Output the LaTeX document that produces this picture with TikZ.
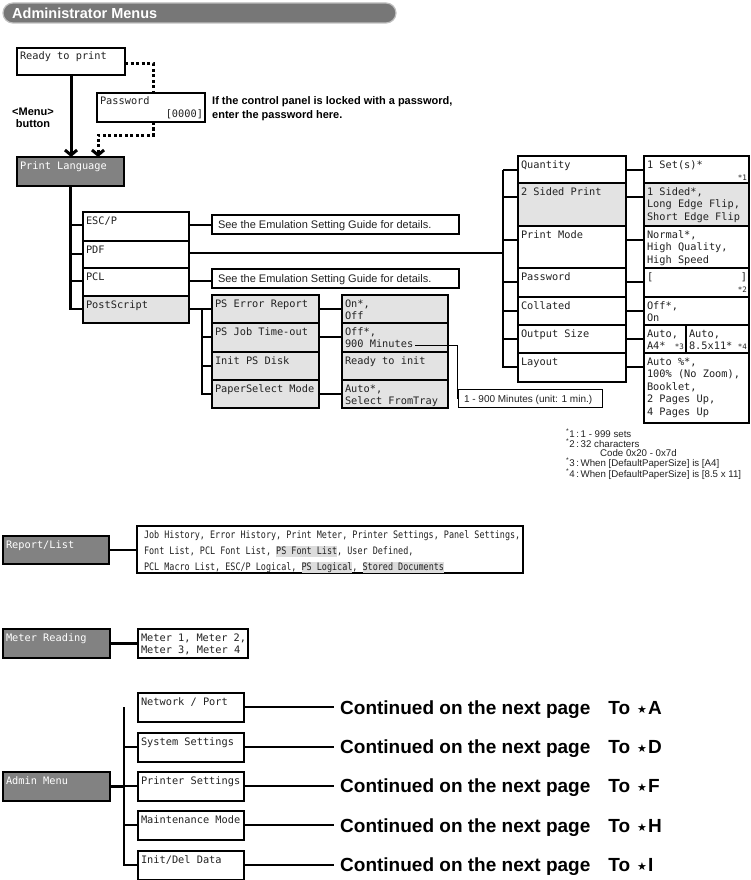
\documentclass[tikz,border=0pt]{standalone}
\usepackage{fontspec}
\setmainfont{Liberation Sans}
\newfontfamily\monof{DejaVu Sans Mono}
\newfontfamily\monoc[FakeStretch=0.82]{DejaVu Sans Mono}
\newfontfamily\dvs{DejaVu Sans}
\usetikzlibrary{arrows.meta,calc}
\definecolor{dkg}{HTML}{828282}
\definecolor{ltg}{HTML}{E3E3E3}
\definecolor{hdg}{HTML}{777777}
\definecolor{hlg}{HTML}{DCDCDC}
\definecolor{ink}{HTML}{222222}
\newcommand{\bt}[4][3pt]{\parbox[t][#3][t]{#2}{\parindent=0pt\leftskip=#1\rightskip=2pt\parfillskip=0pt plus 1fil\rule{0pt}{12pt}#4}}
\newcommand{\bs}[3]{\parbox[t][#2][t]{#1}{\parindent=0pt\leftskip=6pt\rule{0pt}{13pt}#3}}
\newcommand{\hlt}[1]{{\setlength{\fboxsep}{0pt}\colorbox{hlg}{\rule[-2.5pt]{0pt}{10.5pt}#1}}}
\newcommand{\sm}[1]{{\fontsize{7.5}{8}\selectfont #1}}
\newcommand{\rgt}{\null\hfill}
\tikzset{
  bx/.style={draw=black, line width=1.2pt, inner sep=0pt, outer sep=0pt, anchor=north west,
    text=ink, font=\monof\fontsize{10.3}{12.5}\selectfont},
  dk/.style={bx, fill=dkg, text=white},
  lt/.style={bx, fill=ltg},
  sbx/.style={bx, font=\fontsize{11}{13}\selectfont},
  wire/.style={line width=2.4pt},
  bigarrow/.style={line width=3pt, -{Straight Barb[length=5pt,width=12pt]}},
  dotline/.style={line width=3pt, dash pattern=on 3pt off 2.5pt},
  cont/.style={anchor=base west, inner xsep=6pt, inner ysep=0pt, text=black,
    font=\bfseries\fontsize{19}{19}\selectfont},
}
\begin{document}
\begin{tikzpicture}[x=1pt, y=-1pt]
\fill[white] (0,0) rectangle (751,880);
\useasboundingbox (0,0) rectangle (751,880);

% header
\draw[fill=hdg, draw=black!25, line width=1.2pt, rounded corners=10pt] (3,3) rectangle (396,23);
\node[anchor=base west, inner sep=0pt, text=white, font=\bfseries\fontsize{14.5}{14.5}\selectfont] (title) at (12,18.5) {Administrator Menus};

% top part
\node[bx] (rtp) at (17,48) {\bt{108pt}{27pt}{Ready to print}};
\node[bx] (pwd) at (97,93) {\bt{108pt}{29pt}{Password\\\rgt[0000]}};
\node[anchor=north west, inner sep=0pt, align=left, font=\bfseries\fontsize{11}{14}\selectfont] (note) at (212,96)
  {If the control panel is locked with a password,\\enter the password here.};
\node[anchor=north, inner sep=0pt, align=center, font=\bfseries\fontsize{11}{12}\selectfont] (menu) at (33,108)
  {<Menu>\\button};
\node[dk] (pl) at (17,157) {\bt{107pt}{29pt}{Print Language}};

\draw[bigarrow] (rtp.south) -- (rtp.south |- pl.north);
\draw[dotline] ([yshift=-16pt]rtp.north east) -| ([xshift=56pt]pwd.north west);
\draw[dotline, -{Straight Barb[length=5pt,width=12pt]}] ([xshift=56pt]pwd.south west) -- ++(0,13) -| ([xshift=81pt]pl.north west);

% language column
\node[bx] (escp) at (83,212) {\bt{106pt}{29pt}{ESC/P}};
\node[bx] (pdf) at (83,241) {\bt{106pt}{27pt}{PDF}};
\node[bx] (pcl) at (83,268) {\bt{106pt}{28pt}{PCL}};
\node[lt] (ps) at (83,296) {\bt{106pt}{27pt}{PostScript}};

\draw[wire] (pl.south) |- ([yshift=-13pt]ps.north west);
\foreach \n in {escp,pdf,pcl} \draw[wire] ([yshift=-13pt]pl.south |- \n.north west) -- ([yshift=-13pt]\n.north west);

\node[sbx] (see1) at (212,215) {\bs{247pt}{19pt}{See the Emulation Setting Guide for details.}};
\node[sbx] (see2) at (212,269) {\bs{247pt}{19pt}{See the Emulation Setting Guide for details.}};
\draw[wire] ([yshift=-13pt]escp.north east) -- ([yshift=-13pt]escp.north east -| see1.west);
\draw[wire] ([yshift=-13pt]pcl.north east) -- ([yshift=-13pt]pcl.north east -| see2.west);

% PostScript sub menu
\node[lt] (e1) at (212,295) {\bt{107pt}{28pt}{PS Error Report}};
\node[lt] (e2) at (212,323) {\bt{107pt}{29pt}{PS Job Time-out}};
\node[lt] (e3) at (212,352) {\bt{107pt}{28pt}{Init PS Disk}};
\node[lt] (e4) at (212,380) {\bt{107pt}{28pt}{PaperSelect Mode}};
\node[lt] (v1) at (342,295) {\bt{106pt}{28pt}{On*,\\Off}};
\node[lt] (v2) at (342,323) {\bt{106pt}{29pt}{Off*,\\900 Minutes}};
\node[lt] (v3) at (342,352) {\bt{106pt}{28pt}{Ready to init}};
\node[lt] (v4) at (342,380) {\bt{106pt}{28pt}{Auto*,\\Select FromTray}};

\draw[wire] ([yshift=-13pt]ps.north east) -- ([yshift=-13pt]ps.north east -| e1.west);
\coordinate (pst) at ([xshift=-10pt,yshift=-14pt]e1.north west);
\draw[wire] (pst) |- ([yshift=-14pt]e4.north west);
\foreach \n in {e2,e3} \draw[wire] ([yshift=-14pt]pst |- \n.north west) -- ([yshift=-14pt]\n.north west);
\foreach \a/\b in {e1/v1,e2/v2,e4/v4} \draw[wire] ([yshift=-14pt]\a.north east) -- ([yshift=-14pt]\a.north east -| \b.west);

\node[bx, line width=0.8pt, font=\fontsize{10}{12}\selectfont] (rng) at (458,389) {\bs{144pt}{18pt}{1 - 900 Minutes (unit: 1 min.)}};
\coordinate (m900) at (415,345.5);
\draw[line width=0.8pt] (m900) -- ++(42,0) |- (rng.west);

% PDF sub menu
\node[bx] (qty) at (518,156) {\bt{108pt}{27pt}{Quantity}};
\node[lt] (two) at (518,183) {\bt{108pt}{43pt}{2 Sided Print}};
\node[bx] (pm) at (518,226) {\bt{108pt}{42pt}{Print Mode}};
\node[bx] (pw) at (518,268) {\bt{108pt}{29pt}{Password}};
\node[bx] (col) at (518,297) {\bt{108pt}{28pt}{Collated}};
\node[bx] (os) at (518,325) {\bt{108pt}{28pt}{Output Size}};
\node[bx] (lay) at (518,353) {\bt{108pt}{29pt}{Layout}};

\node[bx] (qtyv) at (644,156) {\bt{105pt}{27pt}{1 Set(s)*\\\rgt\sm{*1}}};
\node[lt] (twov) at (644,183) {\bt{105pt}{43pt}{1 Sided*,\\Long Edge Flip,\\Short Edge Flip}};
\node[bx] (pmv) at (644,226) {\bt{105pt}{42pt}{Normal*,\\High Quality,\\High Speed}};
\node[bx] (pwv) at (644,268) {\bt{105pt}{29pt}{[\hfill]\\\rgt\sm{*2}}};
\node[bx] (colv) at (644,297) {\bt{105pt}{28pt}{Off*,\\On}};
\node[bx] (osa) at (644,325) {\bt{42pt}{28pt}{Auto,\\A4*\hfill\sm{*3}}};
\node[bx] (osb) at (686,325) {\bt{63pt}{28pt}{Auto,\\8.5x11*\hfill\sm{*4}}};
\node[bx] (layv) at (644,353) {\bt{105pt}{70pt}{Auto \%*,\\100\% (No Zoom),\\Booklet,\\2 Pages Up,\\4 Pages Up}};

\coordinate (rtr) at ([xshift=-15pt,yshift=-14pt]qty.north west);
\draw[wire] (rtr) |- ([yshift=-14pt]lay.north west);
\foreach \n in {qty,two,pm,pw,col,os} \draw[wire] ([yshift=-14pt]rtr |- \n.north west) -- ([yshift=-14pt]\n.north west);
\draw[wire] ([yshift=-12pt]pdf.north east) -- ([yshift=-12pt]pdf.north east -| rtr);
\foreach \a/\b in {qty/qtyv,two/twov,pm/pmv,pw/pwv,col/colv,os/osa,lay/layv} \draw[wire] ([yshift=-14pt]\a.north east) -- ([yshift=-14pt]\a.north east -| \b.west);

% footnotes
\node[anchor=north west, inner sep=0pt, align=left, text=ink, font=\fontsize{9.7}{9.6}\selectfont] (fn) at (566,429)
  {\textsuperscript{*}1\,:\,1 - 999 sets\\
   \textsuperscript{*}2\,:\,32 characters\\
   \hspace*{34pt}Code 0x20 - 0x7d\\
   \textsuperscript{*}3\,:\,When [DefaultPaperSize] is [A4]\\
   \textsuperscript{*}4\,:\,When [DefaultPaperSize] is [8.5 x 11]};

% Report / List
\node[dk] (rep) at (3,536) {\bt{106pt}{28pt}{Report/List}};
\node[bx, font=\monoc\fontsize{10.3}{16}\selectfont] (repv) at (137,526) {\bt[7pt]{386pt}{47pt}{Job History, Error History, Print Meter, Printer Settings, Panel Settings,\\Font List, PCL Font List, \hlt{PS Font List}, User Defined,\\PCL Macro List, ESC/P Logical, \hlt{PS Logical}, \hlt{Stored Documents}}};
\draw[wire] (rep.east) -- (rep.east -| repv.west);

% Meter Reading
\node[dk] (met) at (3,629) {\bt{107pt}{29pt}{Meter Reading}};
\node[bx] (metv) at (138,629) {\bt{110pt}{29pt}{Meter 1, Meter 2,\\Meter 3, Meter 4}};
\draw[wire] (met.east) -- (met.east -| metv.west);

% Admin Menu
\node[dk] (adm) at (3,772) {\bt{107pt}{29pt}{Admin Menu}};
\node[bx] (a1) at (138,693) {\bt{106pt}{29pt}{Network / Port}};
\node[bx] (a2) at (138,733) {\bt{106pt}{29pt}{System Settings}};
\node[bx] (a3) at (138,772) {\bt{106pt}{29pt}{Printer Settings}};
\node[bx] (a4) at (138,811) {\bt{106pt}{29pt}{Maintenance Mode}};
\node[bx] (a5) at (138,851) {\bt{106pt}{29pt}{Init/Del Data}};
\coordinate (atr) at ([xshift=-14pt,yshift=-14pt]a1.north west);
\draw[wire] (atr) |- ([yshift=-14pt]a5.north west);
\foreach \n in {a2,a3,a4} \draw[wire] ([yshift=-14pt]atr |- \n.north west) -- ([yshift=-14pt]\n.north west);
\draw[wire] (adm.east) -- (adm.east -| atr);

\node[cont] (c1) at (334,714) {Continued on the next page\hspace{18pt}To\hspace{7pt}\raisebox{1pt}{\dvs\fontsize{11}{11}\selectfont ★}\hspace{1pt}A};
\node[cont] (c2) at (334,753) {Continued on the next page\hspace{18pt}To\hspace{7pt}\raisebox{1pt}{\dvs\fontsize{11}{11}\selectfont ★}\hspace{1pt}D};
\node[cont] (c3) at (334,792) {Continued on the next page\hspace{18pt}To\hspace{7pt}\raisebox{1pt}{\dvs\fontsize{11}{11}\selectfont ★}\hspace{1pt}F};
\node[cont] (c4) at (334,832) {Continued on the next page\hspace{18pt}To\hspace{7pt}\raisebox{1pt}{\dvs\fontsize{11}{11}\selectfont ★}\hspace{1pt}H};
\node[cont] (c5) at (334,871) {Continued on the next page\hspace{18pt}To\hspace{7pt}\raisebox{1pt}{\dvs\fontsize{11}{11}\selectfont ★}\hspace{1pt}I};
\foreach \a/\c in {a1/c1,a2/c2,a3/c3,a4/c4,a5/c5} \draw[wire] ([yshift=-14pt]\a.north east) -- ([yshift=-14pt]\a.north east -| \c.west);
\end{tikzpicture}
\end{document}
